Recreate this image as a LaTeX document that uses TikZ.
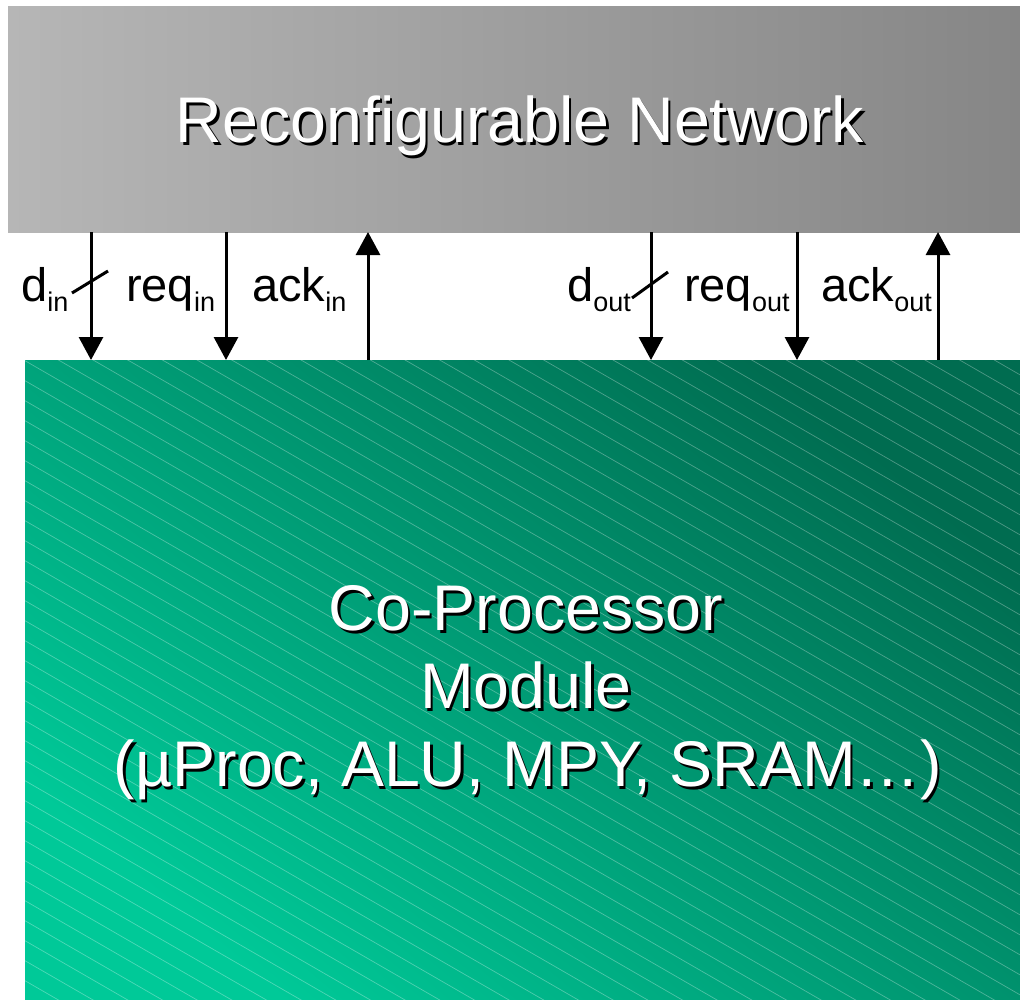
\documentclass[tikz,border=0pt]{standalone}
\usepackage{fontspec}
\setmainfont{Liberation Sans}
\usetikzlibrary{arrows.meta}

\definecolor{netlight}{HTML}{B6B6B6}
\definecolor{netdark}{HTML}{868686}
\definecolor{coplight}{HTML}{00C998}
\definecolor{copdark}{HTML}{006C50}

% lowered small text for signal names
\newcommand\sigsub[1]{\raisebox{-10pt}{\fontsize{27}{27}\selectfont #1}}

\begin{document}
\begin{tikzpicture}[x=1pt,y=-1pt,
  netbox/.style={inner sep=0pt, outer sep=0pt, draw=none,
    left color=netlight, right color=netdark,
    minimum width=1012pt, minimum height=226pt, anchor=north west},
  copbox/.style={inner sep=0pt, outer sep=0pt, draw=none,
    top color=copdark, bottom color=coplight, shading angle=-40,
    minimum width=995pt, minimum height=639pt, anchor=north west},
  hatch/.style={white, opacity=0.3, line width=0.7pt},
  bigtext/.style={inner sep=0pt, anchor=base, font=\fontsize{64.5}{64.5}\selectfont},
  lab/.style={inner sep=0pt, anchor=base west, font=\fontsize{47}{47}\selectfont},
  sig/.style={line width=3pt, -{Triangle[width=24pt,length=23pt]}},
  slashline/.style={line width=3pt},
]
\useasboundingbox (0,0) rectangle (1020,999);

% the two blocks
\node[netbox] (net) at (8,6) {};
\node[copbox] (cop) at (25,360) {};

% diagonal hatching over the co-processor block
\begin{scope}
  \clip (cop.north west) rectangle (cop.south east);
  \foreach \k in {-30,...,33}
    \draw[hatch] (25,{360.7+20*\k}) -- ++(1000,577);
\end{scope}

% block titles, white with a dark drop shadow
\node[bigtext, text=black] (netshadow) at (522.5,145) {Reconfigurable Network};
\node[bigtext, text=white] (nettitle) at (520,142) {Reconfigurable Network};

\node[bigtext, text=black] (copshadowa) at (528.5,633) {Co-Processor};
\node[bigtext, text=white] (coptitlea) at (526,630) {Co-Processor};
\node[bigtext, text=black] (copshadowb) at (528.5,711) {Module};
\node[bigtext, text=white] (coptitleb) at (526,708) {Module};
\node[bigtext, text=black] (copshadowc) at (530.5,789) {(µProc, ALU, MPY, SRAM…)};
\node[bigtext, text=white] (coptitlec) at (528,786) {(µProc, ALU, MPY, SRAM…)};

% handshake signals between network and co-processor
\draw[sig] (net.south -| 91,0) -- (cop.north -| 91,0);
\draw[sig] (net.south -| 226,0) -- (cop.north -| 226,0);
\draw[sig] (cop.north -| 368,0) -- (net.south -| 368,0);
\draw[sig] (net.south -| 651,0) -- (cop.north -| 651,0);
\draw[sig] (net.south -| 797,0) -- (cop.north -| 797,0);
\draw[sig] (cop.north -| 938,0) -- (net.south -| 938,0);

% bus marks on the data lines
\coordinate (dinA) at (72,293);
\coordinate (dinB) at (108,271);
\coordinate (doutA) at (632,298);
\coordinate (doutB) at (668,272);
\draw[slashline] (dinA) -- (dinB);
\draw[slashline] (doutA) -- (doutB);

% signal names
\node[lab] (ldin) at (21,301) {d\sigsub{in}};
\node[lab] (lreqin) at (126,301) {req\sigsub{in}};
\node[lab] (lackin) at (252,301) {ack\sigsub{in}};
\node[lab] (ldout) at (567,301) {d\sigsub{out}};
\node[lab] (lreqout) at (684,301) {req\sigsub{out}};
\node[lab] (lackout) at (821,301) {ack\sigsub{out}};
\end{tikzpicture}
\end{document}
